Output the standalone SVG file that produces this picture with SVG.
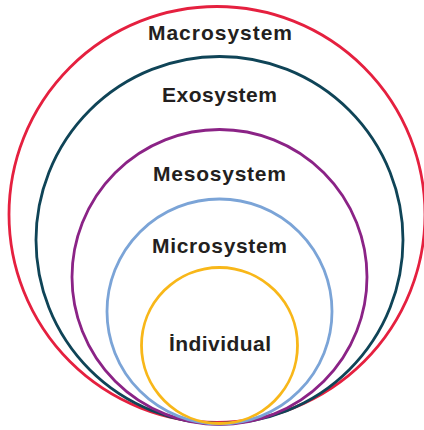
<svg xmlns="http://www.w3.org/2000/svg" width="424" height="430" viewBox="0 0 424 430">
<style>
.ring{fill:none;stroke-width:2.8}
.lbl{font-family:"Liberation Sans",Arial,sans-serif;font-weight:bold;font-size:21px;fill:#231f20;text-anchor:middle}
</style>
<rect width="424" height="430" fill="#ffffff"/>
<g id="macrosystem">
<circle class="ring" cx="217" cy="214.5" r="208" stroke="#e5203f"/>
<text class="lbl" x="220" y="40" textLength="144" lengthAdjust="spacing">Macrosystem</text>
</g>
<g id="exosystem">
<circle class="ring" cx="219.5" cy="240" r="183.5" stroke="#0f4457"/>
<text class="lbl" x="219.5" y="102" textLength="115" lengthAdjust="spacing">Exosystem</text>
</g>
<g id="mesosystem">
<circle class="ring" cx="219.5" cy="277" r="147.5" stroke="#8b2386"/>
<text class="lbl" x="219.5" y="181" textLength="133" lengthAdjust="spacing">Mesosystem</text>
</g>
<g id="microsystem">
<circle class="ring" cx="219.5" cy="311.5" r="112.5" stroke="#7ba4d7"/>
<text class="lbl" x="219.5" y="253" textLength="135" lengthAdjust="spacing">Microsystem</text>
</g>
<g id="individual">
<circle class="ring" cx="219.5" cy="345.5" r="78" stroke="#f8b719"/>
<text class="lbl" x="220" y="351" textLength="102" lengthAdjust="spacing">İndividual</text>
</g>
</svg>
